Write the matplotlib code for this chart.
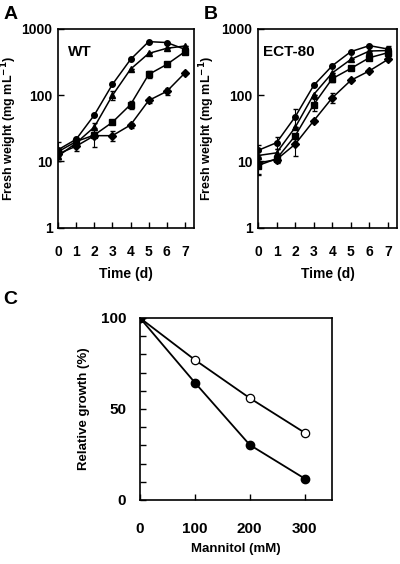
import matplotlib
matplotlib.use("Agg")
import matplotlib.pyplot as plt
from matplotlib.ticker import FixedLocator, NullLocator

plt.rcParams['font.family'] = ['Liberation Sans Narrow', 'Liberation Sans', 'DejaVu Sans']
plt.rcParams['font.weight'] = 'bold'
plt.rcParams['axes.labelweight'] = 'bold'

# ---- data -------------------------------------------------------------
days = [0, 1, 2, 3, 4, 5, 6, 7]

# panel A, wild type
wt_circle = [15, 21.6, 50, 145, 345, 640, 620, 490]
wt_triangle = [12, 19, 33, 99, 246, 425, 508, 550]
wt_square = [14, 20, 25, 39, 72, 205, 290, 452]
wt_diamond = [13, 17, 24.5, 24.5, 35.5, 83, 114, 216]
wt_circle_err = [5, 1, 0, 0, 0, 0, 0, 0]
wt_triangle_err = [2, 1, 5, 15, 0, 0, 0, 0]
wt_square_err = [2, 2, 0, 0, 10, 25, 0, 0]
wt_diamond_err = [2, 2.5, 8, 4, 3, 8, 15, 0]

# panel B, ECT-80
ect_circle = [14.7, 19.2, 47, 140, 277, 452, 557, 495]
ect_triangle = [12.3, 13.5, 32.6, 102, 216, 345, 462, 470]
ect_square = [8.7, 11, 24.3, 72, 177, 252, 366, 436]
ect_diamond = [9.5, 10.7, 18.2, 41, 91, 167, 232, 345]
ect_circle_err = [3, 4, 15, 0, 0, 0, 0, 60]
ect_triangle_err = [2, 2, 0, 0, 0, 0, 0, 0]
ect_square_err = [2.5, 1.5, 0, 15, 20, 0, 0, 0]
ect_diamond_err = [3, 1, 6, 0, 15, 0, 0, 0]

# panel C
mannitol = [0, 100, 200, 300]
growth_open = [100, 77, 56, 37]
growth_filled = [100, 64.5, 30.3, 11.8]

tick_fs = 10


def growth_panel(ax, series, title, title_x):
    for vals, errs, mk in series:
        ax.errorbar(days, vals, yerr=errs, color='black', lw=1.1, marker=mk,
                    ms=4, mfc='black', mec='black', ecolor='black',
                    elinewidth=0.8, capsize=1.8)
    ax.set_yscale('log')
    ax.set_ylim(1, 1000)
    ax.set_xlim(0, 7.5)
    ax.yaxis.set_major_locator(FixedLocator([1, 10, 100, 1000]))
    ax.yaxis.set_minor_locator(NullLocator())
    ax.set_yticklabels(['1', '10', '100', '1000'])
    ax.set_xticks(days)
    ax.tick_params(direction='in', length=4, width=1, labelsize=tick_fs)
    ax.tick_params(axis='x', pad=12)
    ax.tick_params(axis='y', pad=4)
    for s in ax.spines.values():
        s.set_linewidth(1.2)
    ax.set_xlabel('Time (d)', fontsize=10)
    ax.set_ylabel('Fresh weight (mg mL$^{\\mathbf{-1}}$)', fontsize=9)
    ax.xaxis.set_label_coords(0.5, -0.196)
    ax.text(title_x, 0.885, title, transform=ax.transAxes, fontsize=11,
            fontweight='bold', ha='left', va='center')


fig = plt.figure(figsize=(4, 5.64), dpi=100)

ax_a = fig.add_axes([0.145, 0.596, 0.34, 0.353])
growth_panel(ax_a, [(wt_circle, wt_circle_err, 'o'),
                    (wt_triangle, wt_triangle_err, '^'),
                    (wt_square, wt_square_err, 's'),
                    (wt_diamond, wt_diamond_err, 'D')], 'WT', 0.075)
ax_a.yaxis.set_label_coords(-0.29, 0.5)

ax_b = fig.add_axes([0.645, 0.596, 0.348, 0.353])
growth_panel(ax_b, [(ect_circle, ect_circle_err, 'o'),
                    (ect_triangle, ect_triangle_err, '^'),
                    (ect_square, ect_square_err, 's'),
                    (ect_diamond, ect_diamond_err, 'D')], 'ECT-80', 0.035)
ax_b.yaxis.set_label_coords(-0.293, 0.5)

ax_c = fig.add_axes([0.35, 0.1135, 0.48, 0.3227])
ax_c.plot(mannitol, growth_open, color='black', lw=1.3, marker='o', ms=6,
          mfc='white', mec='black', mew=0.9)
ax_c.plot(mannitol, growth_filled, color='black', lw=1.3, marker='o', ms=6,
          mfc='black', mec='black')
ax_c.set_xlim(0, 350)
ax_c.set_ylim(0, 100)
ax_c.set_xticks([0, 100, 200, 300])
ax_c.set_yticks([0, 50, 100])
ax_c.set_yticks(range(0, 101, 10), minor=True)
ax_c.tick_params(which='both', direction='in', length=4, width=1, labelsize=tick_fs + 1)
ax_c.tick_params(axis='x', pad=16)
ax_c.tick_params(axis='y', pad=10)
for s in ax_c.spines.values():
    s.set_linewidth(1.2)
ax_c.set_xlabel('Mannitol (mM)', fontsize=9.5)
ax_c.set_ylabel('Relative growth (%)', fontsize=9.5)
ax_c.xaxis.set_label_coords(0.5, -0.236)
ax_c.yaxis.set_label_coords(-0.26, 0.5)

fig.text(0.008, 0.99, 'A', fontsize=14, fontweight='bold', va='top', ha='left')
fig.text(0.51, 0.99, 'B', fontsize=14, fontweight='bold', va='top', ha='left')
fig.text(0.008, 0.484, 'C', fontsize=14, fontweight='bold', va='top', ha='left')

fig.savefig('out.png', dpi=100)
